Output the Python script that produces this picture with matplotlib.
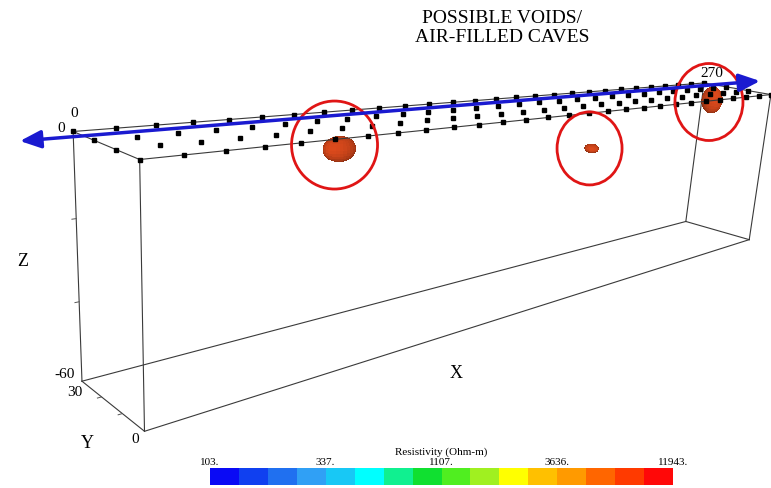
import matplotlib
matplotlib.use("Agg")
import matplotlib.pyplot as plt
import numpy as np
from itertools import product
from matplotlib.patches import Ellipse
from matplotlib.colors import ListedColormap, LogNorm
import matplotlib.cm as cm

plt.rcParams['font.family'] = ['Liberation Serif', 'DejaVu Serif']

W, H = 771, 488

# survey block (m)
x_lim = [0, 270]
y_lim = [0, 30]
z_lim = [-60, 0]
elec_x = np.arange(0, 271, 10)
elec_y = [0, 10, 20, 30]
z_ticks = [-20, -40]
y_ticks = [10, 20]

# possible voids: centre and radii (m)
void_x = [53, 156, 264]
void_y = [2, 2, 22]
void_z = [-3.0, -12, -5.5]
void_rx = [4.4, 2.3, 4.0]
void_ry = [3.0, 2.0, 4.0]
void_rz = [3.0, 1.3, 5.2]

res_ticks = [103, 337, 1107, 3636, 11943]
res_colors = ['#0a0af5', '#1040f0', '#2070f0', '#30a0f5', '#18c8f5', '#00ffff',
              '#10f090', '#10e030', '#50ee20', '#a0f020', '#ffff00', '#ffc000',
              '#ff9a00', '#ff6600', '#ff3a00', '#ff0808']

# camera found by fitting the box corners of the reference view
ELEV, AZIM, ROLL, FOCAL = 14.551, -138.136, -4.780, 0.2149
BOX = (270, 30 * 1.070, 60 * 1.042)
AX_PX = (90.0, -136.9, 823.8, 823.8)

fig = plt.figure(figsize=(W / 100, H / 100), dpi=100)
ax = fig.add_axes([AX_PX[0] / W, AX_PX[1] / H, AX_PX[2] / W, AX_PX[3] / H],
                  projection='3d', computed_zorder=False)
ax.set_xlim(*x_lim)
ax.set_ylim(*y_lim)
ax.set_zlim(*z_lim)
ax.set_box_aspect(BOX)
ax.view_init(ELEV, AZIM, ROLL)
ax.set_proj_type('persp', focal_length=FOCAL)
ax.set_axis_off()

corners = np.array(list(product(x_lim, y_lim, z_lim)), float)
for i in range(8):
    for j in range(i + 1, 8):
        if np.sum(corners[i] != corners[j]) == 1:
            # edges of the ground surface are drawn over the voids
            top = corners[i][2] == 0 and corners[j][2] == 0
            ax.plot(*zip(corners[i], corners[j]), color='#3a3a3a', lw=0.8,
                    zorder=2.5 if top else 1, clip_on=False)
tick_kw = dict(color='#555555', lw=0.7, zorder=1, clip_on=False)
for zt in z_ticks:
    ax.plot([0, -1], [30, 30], [zt, zt], **tick_kw)
for yt in y_ticks:
    ax.plot([0, -1], [yt, yt], [-60, -60], **tick_kw)

u = np.linspace(0, 2 * np.pi, 28)
w = np.linspace(0, np.pi, 14)
for cx, cy, cz, rx, ry, rz in zip(void_x, void_y, void_z, void_rx, void_ry, void_rz):
    ax.plot_surface(cx + rx * np.outer(np.cos(u), np.sin(w)),
                    cy + ry * np.outer(np.sin(u), np.sin(w)),
                    cz + rz * np.outer(np.ones_like(u), np.cos(w)),
                    color='#dc4a1c', shade=True, linewidth=0, antialiased=False,
                    zorder=2, clip_on=False)

EX, EY = np.meshgrid(elec_x, elec_y)
ax.plot(EX.ravel(), EY.ravel(), np.zeros(EX.size), 's', color='black', ms=2.4,
        zorder=3, clip_on=False)

fig.canvas.draw()
M = ax.get_proj()


def to_px(x, y, z):
    q = M @ np.array([x, y, z, 1.0])
    dx, dy = ax.transData.transform((q[0] / q[3], q[1] / q[3]))
    return dx, H - dy


ov = fig.add_axes([0, 0, 1, 1])
ov.set_xlim(0, W)
ov.set_ylim(H, 0)
ov.axis('off')
ov.patch.set_alpha(0)

# axis end labels, offset in pixels from the box corner they belong to
lab_kw = dict(fontsize=11, ha='center', va='center', textcoords='offset pixels')
ov.annotate('0', to_px(0, 30, 0), xytext=(1, 18), **lab_kw)
ov.annotate('0', to_px(0, 30, 0), xytext=(-12, 3), **lab_kw)
ov.annotate('270', to_px(270, 30, 0), xytext=(8, 9), **lab_kw)
ov.annotate('-60', to_px(0, 30, -60), xytext=(-17, 7), **lab_kw)
ov.annotate('30', to_px(0, 30, -60), xytext=(-7, -11), **lab_kw)
ov.annotate('0', to_px(0, 0, -60), xytext=(-9, -8), **lab_kw)

circle_size = [(86, 88), (65, 73), (68, 77)]
circle_shift = [(-5, -4), (-2, 0), (-3, 2)]
for cx, cy, cz, (ew, eh), (sx, sy) in zip(void_x, void_y, void_z, circle_size, circle_shift):
    px, py = to_px(cx, cy, cz)
    ov.add_patch(Ellipse((px + sx, py + sy), ew, eh, fill=False, ec='#e01515', lw=2))

ov.annotate('', xy=(760, 81), xytext=(20, 141),
            arrowprops=dict(arrowstyle='<|-|>,head_length=0.7,head_width=0.3',
                            color='#1a1ad0', lw=2.5, mutation_scale=18,
                            shrinkA=0, shrinkB=0))
ov.text(502, 28, 'POSSIBLE VOIDS/\nAIR-FILLED CAVES', ha='center', va='center',
        fontsize=14, linespacing=1.1)
ov.text(23, 262, 'Z', ha='center', va='center', fontsize=13)
ov.text(87, 444, 'Y', ha='center', va='center', fontsize=13)
ov.text(456, 373, 'X', ha='center', va='center', fontsize=13)

cax = fig.add_axes([210 / W, 3 / H, 463 / W, 17 / H])
sm = cm.ScalarMappable(norm=LogNorm(vmin=res_ticks[0], vmax=res_ticks[-1]),
                       cmap=ListedColormap(res_colors))
cb = fig.colorbar(sm, cax=cax, orientation='horizontal')
cb.minorticks_off()
cb.set_ticks(res_ticks)
cb.set_ticklabels(['%d.' % r for r in res_ticks])
cb.outline.set_visible(False)
cax.xaxis.set_ticks_position('top')
cax.xaxis.set_label_position('top')
cax.tick_params(length=0, labelsize=8, pad=1)
cb.set_label('Resistivity (Ohm-m)', fontsize=8, labelpad=2)

fig.savefig('out.png', dpi=100)
